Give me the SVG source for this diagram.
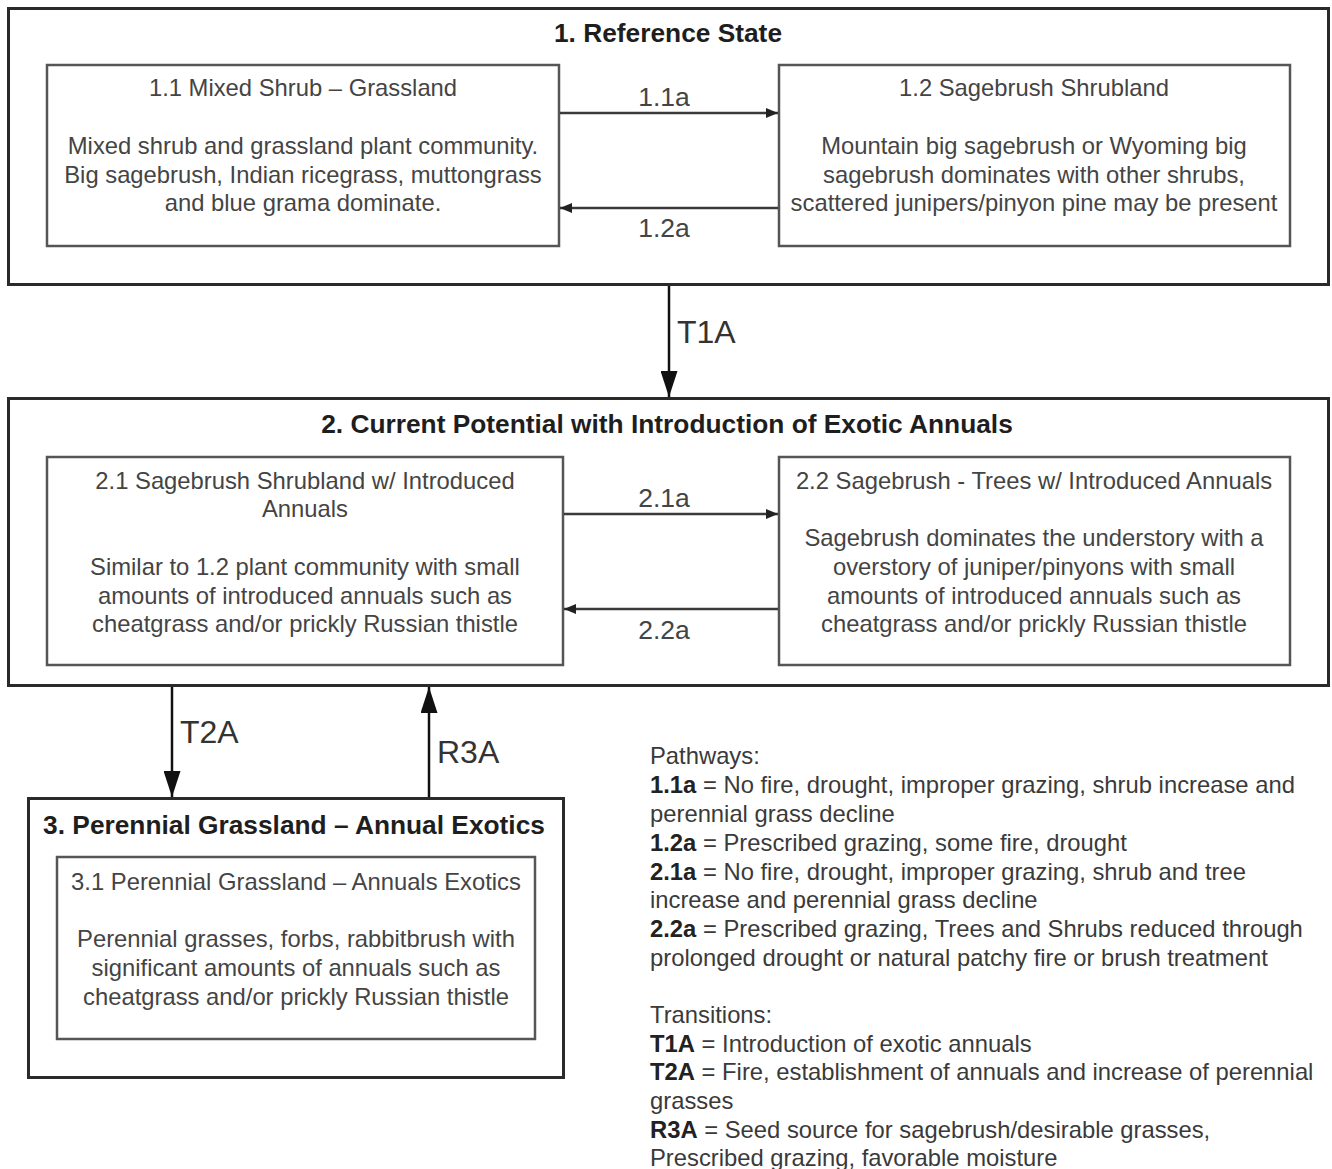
<svg xmlns="http://www.w3.org/2000/svg" width="1332" height="1169" viewBox="0 0 1332 1169">
<defs>
<style>
.outer{fill:none;stroke:#2a2a2a;stroke-width:3}
.inner{fill:none;stroke:#555;stroke-width:2.5}
.h{fill:#1e1e1e;font-family:"Liberation Sans",Arial,sans-serif;font-weight:bold;font-size:26.3px;text-anchor:middle}
.t{fill:#444;font-family:"Liberation Sans",Arial,sans-serif;font-size:23.8px;text-anchor:middle}
.lbl{fill:#444;font-family:"Liberation Sans",Arial,sans-serif;font-size:26.5px;text-anchor:middle}
.big{fill:#333;font-family:"Liberation Sans",Arial,sans-serif;font-size:32px}
.leg{fill:#3a3a3a;font-family:"Liberation Sans",Arial,sans-serif;font-size:23.8px}
.leg tspan.b{font-weight:bold;fill:#222}
.c{fill:none;stroke:#3a3a3a;stroke-width:2.5}
.v{fill:none;stroke:#111;stroke-width:2.5}
</style>
<marker id="sa" markerUnits="userSpaceOnUse" markerWidth="12" markerHeight="10" refX="12" refY="5" orient="auto"><path d="M0,0 L12,5 L0,10 z" fill="#222"/></marker>
<marker id="la" markerUnits="userSpaceOnUse" markerWidth="26" markerHeight="17" refX="26" refY="8.5" orient="auto"><path d="M0,0 L26,8.5 L0,17 z" fill="#111"/></marker>
</defs>
<rect width="1332" height="1169" fill="#fff"/>

<g id="state1">
<rect class="outer" x="8.5" y="8.5" width="1320" height="276"/>
<text class="h" x="668" y="42">1. Reference State</text>
</g>
<g id="node1-1">
<rect class="inner" x="47" y="65" width="512" height="181"/>
<text class="t" x="303" y="96">1.1 Mixed Shrub – Grassland</text>
<text class="t" x="303" y="154">Mixed shrub and grassland plant community.</text>
<text class="t" x="303" y="183">Big sagebrush, Indian ricegrass, muttongrass</text>
<text class="t" x="303" y="211">and blue grama dominate.</text>
</g>
<g id="node1-2">
<rect class="inner" x="779" y="65" width="511" height="181"/>
<text class="t" x="1034" y="96">1.2 Sagebrush Shrubland</text>
<text class="t" x="1034" y="154">Mountain big sagebrush or Wyoming big</text>
<text class="t" x="1034" y="183">sagebrush dominates with other shrubs,</text>
<text class="t" x="1034" y="211">scattered junipers/pinyon pine may be present</text>
</g>

<g id="state2">
<rect class="outer" x="8.5" y="398.5" width="1320" height="287"/>
<text class="h" x="667" y="433">2. Current Potential with Introduction of Exotic Annuals</text>
</g>
<g id="node2-1">
<rect class="inner" x="47" y="457" width="516" height="208"/>
<text class="t" x="305" y="489">2.1 Sagebrush Shrubland w/ Introduced</text>
<text class="t" x="305" y="517">Annuals</text>
<text class="t" x="305" y="575">Similar to 1.2 plant community with small</text>
<text class="t" x="305" y="604">amounts of introduced annuals such as</text>
<text class="t" x="305" y="632">cheatgrass and/or prickly Russian thistle</text>
</g>
<g id="node2-2">
<rect class="inner" x="779" y="457" width="511" height="208"/>
<text class="t" x="1034" y="489">2.2 Sagebrush - Trees w/ Introduced Annuals</text>
<text class="t" x="1034" y="546">Sagebrush dominates the understory with a</text>
<text class="t" x="1034" y="575">overstory of juniper/pinyons with small</text>
<text class="t" x="1034" y="604">amounts of introduced annuals such as</text>
<text class="t" x="1034" y="632">cheatgrass and/or prickly Russian thistle</text>
</g>

<g id="state3">
<rect class="outer" x="28.5" y="798.5" width="535" height="279"/>
<text class="h" x="294" y="834">3. Perennial Grassland – Annual Exotics</text>
</g>
<g id="node3-1">
<rect class="inner" x="57" y="857" width="478" height="182"/>
<text class="t" x="296" y="890">3.1 Perennial Grassland – Annuals Exotics</text>
<text class="t" x="296" y="947">Perennial grasses, forbs, rabbitbrush with</text>
<text class="t" x="296" y="976">significant amounts of annuals such as</text>
<text class="t" x="296" y="1005">cheatgrass and/or prickly Russian thistle</text>
</g>

<g id="connectors">
<line class="c" x1="560" y1="113" x2="778" y2="113" marker-end="url(#sa)"/>
<text class="lbl" x="664" y="106">1.1a</text>
<line class="c" x1="778" y1="208" x2="560" y2="208" marker-end="url(#sa)"/>
<text class="lbl" x="664" y="237">1.2a</text>
<line class="c" x1="564" y1="514" x2="778" y2="514" marker-end="url(#sa)"/>
<text class="lbl" x="664" y="507">2.1a</text>
<line class="c" x1="778" y1="609" x2="564" y2="609" marker-end="url(#sa)"/>
<text class="lbl" x="664" y="639">2.2a</text>
<line class="v" x1="669" y1="286" x2="669" y2="397" marker-end="url(#la)"/>
<text class="big" x="677" y="343">T1A</text>
<line class="v" x1="172" y1="687" x2="172" y2="797" marker-end="url(#la)"/>
<text class="big" x="180" y="743">T2A</text>
<line class="v" x1="429" y1="797" x2="429" y2="687" marker-end="url(#la)"/>
<text class="big" x="437" y="763">R3A</text>
</g>

<g id="legend">
<text class="leg" x="650" y="764">Pathways:</text>
<text class="leg" x="650" y="793"><tspan class="b">1.1a</tspan> = No fire, drought, improper grazing, shrub increase and</text>
<text class="leg" x="650" y="822">perennial grass decline</text>
<text class="leg" x="650" y="851"><tspan class="b">1.2a</tspan> = Prescribed grazing, some fire, drought</text>
<text class="leg" x="650" y="880"><tspan class="b">2.1a</tspan> = No fire, drought, improper grazing, shrub and tree</text>
<text class="leg" x="650" y="908">increase and perennial grass decline</text>
<text class="leg" x="650" y="937"><tspan class="b">2.2a</tspan> = Prescribed grazing, Trees and Shrubs reduced through</text>
<text class="leg" x="650" y="966">prolonged drought or natural patchy fire or brush treatment</text>
<text class="leg" x="650" y="1023">Transitions:</text>
<text class="leg" x="650" y="1052"><tspan class="b">T1A</tspan> = Introduction of exotic annuals</text>
<text class="leg" x="650" y="1080"><tspan class="b">T2A</tspan> = Fire, establishment of annuals and increase of perennial</text>
<text class="leg" x="650" y="1109">grasses</text>
<text class="leg" x="650" y="1138"><tspan class="b">R3A</tspan> = Seed source for sagebrush/desirable grasses,</text>
<text class="leg" x="650" y="1166">Prescribed grazing, favorable moisture</text>
</g>
</svg>
